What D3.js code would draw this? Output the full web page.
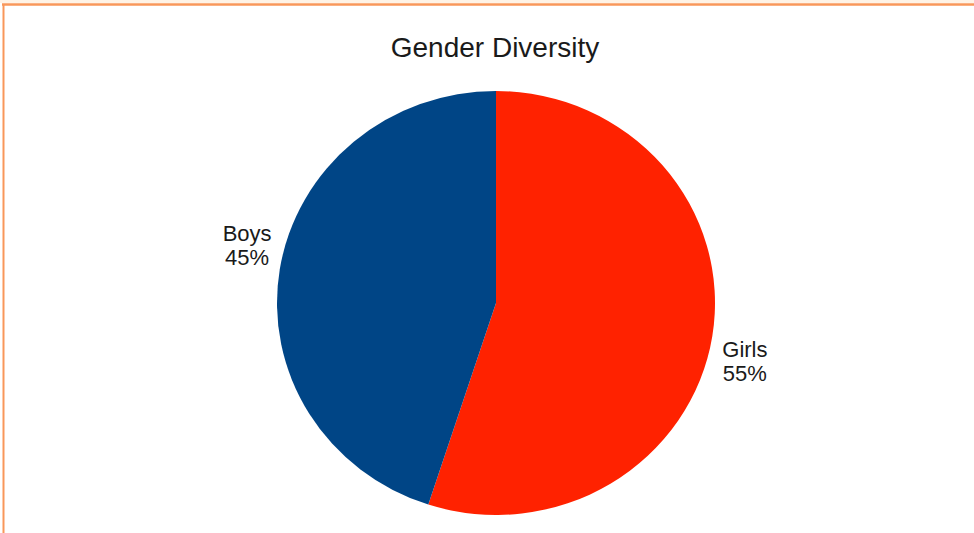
<!DOCTYPE html>
<html>
<head>
<meta charset="utf-8">
<script src="https://cdn.jsdelivr.net/npm/d3@7"></script>
<style>
html,body{margin:0;padding:0;background:#fff;}
svg{display:block;}
text{font-family:"Liberation Sans",Arial,sans-serif;fill:#1a1a1a;}
</style>
</head>
<body>
<svg id="chart" width="974" height="533"></svg>
<script>
const title = "Gender Diversity";
const categories = ["Girls", "Boys"];
const values = [55, 45];
const colors = ["#ff2200", "#004586"];

const W = 974, H = 533;
const cx = 496, cy = 303, rx = 219, ry = 212;

const svg = d3.select("#chart");

// frame
svg.append("rect").attr("x", 0).attr("y", 0).attr("width", W).attr("height", 3).attr("fill", "#fff3e6");
svg.append("line").attr("x1", 2).attr("x2", W).attr("y1", 4.5).attr("y2", 4.5)
  .attr("stroke", "#f9975a").attr("stroke-width", 2.5);
svg.append("line").attr("x1", 3.5).attr("x2", 3.5).attr("y1", 4).attr("y2", H)
  .attr("stroke", "#f9975a").attr("stroke-width", 2);

svg.append("text").attr("x", 495).attr("y", 57).attr("text-anchor", "middle")
  .attr("font-size", 28).text(title);

const data = categories.map((c, i) => ({ cat: c, value: values[i], color: colors[i] }));
const pie = d3.pie().value(d => d.value).sort(null);
const arcs = pie(data);
const arc = d3.arc().innerRadius(0).outerRadius(rx);

const g = svg.append("g").attr("transform", `translate(${cx},${cy}) scale(1,${ry / rx})`);
g.selectAll("path").data(arcs).enter().append("path")
  .attr("d", arc).attr("fill", d => d.data.color);

const total = d3.sum(values);
const labels = svg.append("g");
arcs.forEach(a => {
  const mid = (a.startAngle + a.endAngle) / 2;
  const lx = cx + Math.sin(mid) * 252;
  const ly = cy - Math.cos(mid) * 370;
  const t = labels.append("text").attr("text-anchor", "middle").attr("font-size", 22);
  t.append("tspan").attr("x", lx).attr("y", ly - 4).text(a.data.cat);
  t.append("tspan").attr("x", lx).attr("y", ly + 20).text(Math.round(a.data.value / total * 100) + "%");
});
</script>
</body>
</html>
